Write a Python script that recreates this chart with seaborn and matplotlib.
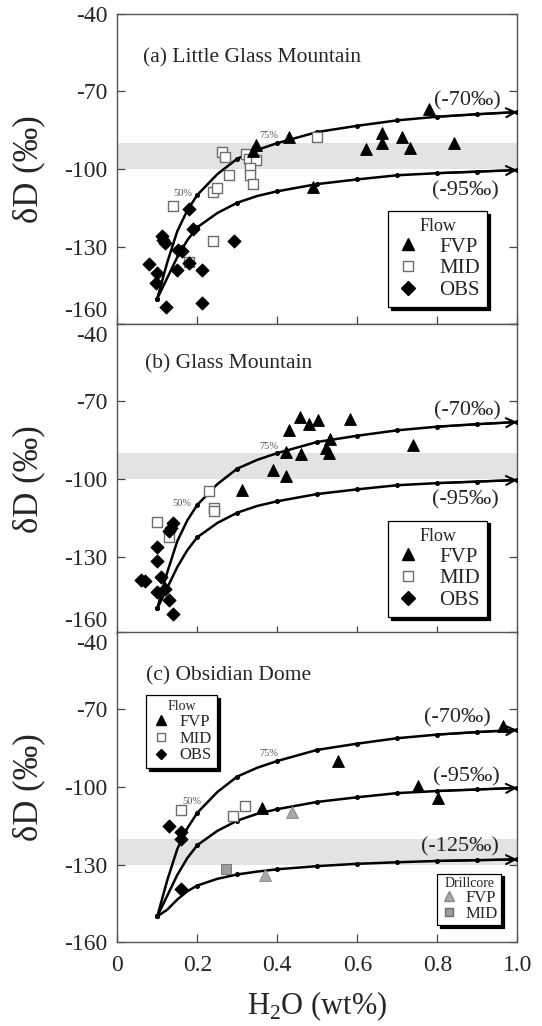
import numpy as np
import pandas as pd
import matplotlib
matplotlib.use("Agg")
import matplotlib.pyplot as plt
import matplotlib.transforms as mtransforms
import seaborn as sns
from matplotlib.lines import Line2D

# ---- model curves (same in every panel) ----
curve_x = [0.1, 0.125, 0.15, 0.175, 0.2, 0.25, 0.3, 0.35, 0.4, 0.5, 0.6, 0.7, 0.8, 0.9, 1.0]
curve_70 = [-150, -136, -124, -116, -110, -102, -96, -92.6, -90, -85.7, -83.3, -81.2, -79.8, -78.8, -78]
curve_95 = [-150, -142, -134, -127.5, -122.5, -117, -113, -110.4, -108.6, -105.8, -104, -102.4, -101.6, -101, -100.4]
curve_125 = [-150, -147.4, -143.5, -140.3, -138.1, -135.5, -133.8, -132.7, -131.8, -130.6, -129.7, -129.1, -128.6, -128.3, -128]
dot_x = [0.1, 0.2, 0.3, 0.4, 0.5, 0.6, 0.7, 0.8, 0.9, 1.0]

xticks = [0, 0.2, 0.4, 0.6, 0.8, 1.0]
xtick_labels = ['0', '0.2', '0.4', '0.6', '0.8', '1.0']
yticks = [-160, -130, -100, -70, -40]
ytick_labels = ['-160', '-130', '-100', '-70', '-40']

# ---- (a) Little Glass Mountain ----
a_fvp_x = [0.78, 0.43, 0.348, 0.34, 0.49, 0.621, 0.661, 0.661, 0.711, 0.732, 0.842]
a_fvp_y = [-77.0, -87.5, -90.7, -92.9, -106.8, -92.4, -86.2, -89.8, -87.8, -91.8, -89.8]
a_mid_x = [0.261, 0.269, 0.323, 0.33, 0.348, 0.28, 0.332, 0.332, 0.34, 0.24, 0.25, 0.14, 0.24, 0.18, 0.5]
a_mid_y = [-93.3, -95.3, -94.2, -96.3, -96.5, -102.3, -99.7, -102.3, -105.8, -108.8, -107.5, -114.2, -127.7, -135.8, -87.8]
a_obs_x = [0.18, 0.19, 0.111, 0.115, 0.119, 0.153, 0.161, 0.292, 0.08, 0.1, 0.098, 0.15, 0.18, 0.211, 0.122, 0.211]
a_obs_y = [-115.6, -123.0, -125.9, -127.4, -128.7, -131.3, -131.5, -127.7, -136.7, -140.0, -143.9, -139.0, -136.2, -139.0, -153.2, -151.9]

# ---- (b) Glass Mountain ----
b_fvp_x = [0.458, 0.48, 0.501, 0.43, 0.582, 0.532, 0.522, 0.53, 0.422, 0.459, 0.74, 0.39, 0.421, 0.311]
b_fvp_y = [-76.2, -78.8, -77.2, -81.1, -77.0, -84.7, -88.1, -90.1, -89.5, -90.3, -86.9, -96.5, -98.7, -104.2]
b_mid_x = [0.1, 0.13, 0.23, 0.242, 0.242]
b_mid_y = [-116.5, -122.3, -104.5, -111.3, -112.5]
b_obs_x = [0.06, 0.069, 0.099, 0.099, 0.109, 0.099, 0.119, 0.129, 0.14, 0.129, 0.135, 0.14]
b_obs_y = [-139.0, -139.4, -126.1, -131.8, -138.0, -143.5, -142.6, -146.9, -152.3, -119.9, -118.8, -116.9]

# ---- (c) Obsidian Dome ----
c_fvp_x = [0.361, 0.551, 0.752, 0.802, 0.964]
c_fvp_y = [-108.2, -90.0, -99.8, -104.3, -76.3]
c_mid_x = [0.159, 0.29, 0.32]
c_mid_y = [-109.1, -111.3, -107.4]
c_obs_x = [0.13, 0.159, 0.159, 0.16]
c_obs_y = [-115.0, -117.3, -120.1, -139.4]
c_core_fvp_x = [0.438, 0.369]
c_core_fvp_y = [-109.7, -134.2]
c_core_mid_x = [0.272]
c_core_mid_y = [-131.6]

sns.set_style("white")
plt.rcParams['font.family'] = ['Liberation Serif', 'DejaVu Serif']
plt.rcParams['mathtext.fontset'] = 'custom'
plt.rcParams['mathtext.rm'] = 'Liberation Serif'

fig = plt.figure(figsize=(5.42, 10.26), dpi=100)
left, width, height = 0.2164, 0.738, 0.3029
axes = [fig.add_axes([left, 0.6838, width, height]),
        fig.add_axes([left, 0.3817, width, height]),
        fig.add_axes([left, 0.0816, width, height])]

shadow = {'facecolor': 'k', 'edgecolor': 'k', 'alpha': 1}


def draw_curve(ax, ys, label, lx, ly):
    sns.lineplot(x=curve_x, y=ys, color='k', lw=1.8, ax=ax, estimator=None, sort=False)
    mask = np.isin(np.round(curve_x, 3), np.round(dot_x, 3))
    ax.plot(np.array(curve_x)[mask], np.array(ys)[mask], 'o', color='k', ms=2.6, zorder=3)
    ax.annotate('', xy=(curve_x[-1], ys[-1]), xytext=(curve_x[-3], ys[-3]),
                arrowprops=dict(arrowstyle='->', color='k', lw=1.5, mutation_scale=16,
                                shrinkA=0, shrinkB=0), annotation_clip=False)
    ax.text(lx, ly, label, fontsize=16, ha='center', va='center')


def draw_points(ax, fx, fy, mx, my, ox, oy):
    sns.scatterplot(x=mx, y=my, marker='s', s=58, color='white', edgecolor='#6d6d6d',
                    linewidth=1.0, ax=ax, zorder=4)
    sns.scatterplot(x=ox, y=oy, marker='D', s=46, color='k', edgecolor='k', ax=ax, zorder=5)
    sns.scatterplot(x=fx, y=fy, marker='^', s=72, color='k', edgecolor='k', ax=ax, zorder=5)


def flow_handles(ms):
    return [Line2D([], [], marker='^', color='k', ls='none', ms=ms),
            Line2D([], [], marker='s', mfc='white', mec='#6d6d6d', ls='none', ms=ms * 0.85),
            Line2D([], [], marker='D', color='k', ls='none', ms=ms * 0.8)]


def style_axes(ax, show_x, shift_top, shift_bottom):
    ax.set_xlim(0, 1.0)
    ax.set_ylim(-160, -40)
    ax.set_xticks(xticks, labels=xtick_labels if show_x else [''] * len(xticks))
    ax.set_yticks(yticks, labels=ytick_labels)
    ax.tick_params(direction='in', length=6, width=0.9, color='#444', labelsize=17,
                   left=True, right=True, bottom=True, top=False, pad=7)
    ax.tick_params(axis='x', pad=9)
    for sp in ax.spines.values():
        sp.set_color('#555')
        sp.set_linewidth(1.0)
    up = mtransforms.ScaledTranslation(0, 2 / 72, fig.dpi_scale_trans)
    down = mtransforms.ScaledTranslation(0, -2 / 72, fig.dpi_scale_trans)
    for lbl in ax.get_yticklabels():
        if shift_bottom and lbl.get_text() == '-160':
            lbl.set_va('bottom')
            lbl.set_transform(lbl.get_transform() + up)
        if shift_top and lbl.get_text() == '-40':
            lbl.set_va('top')
            lbl.set_transform(lbl.get_transform() + down)
    ax.set_ylabel('δD (‰)', fontsize=25)
    ax.yaxis.set_label_coords(-0.18, 0.5)
    ax.set_xlabel('')


# panel (a)
ax = axes[0]
ax.axhspan(-100, -90, color='#e3e3e3', lw=0, zorder=0)
draw_curve(ax, curve_70, '(-70‰)', 0.875, -73.7)
draw_curve(ax, curve_95, '(-95‰)', 0.87, -108.4)
draw_points(ax, a_fvp_x, a_fvp_y, a_mid_x, a_mid_y, a_obs_x, a_obs_y)
ax.text(0.165, -109.3, '50%', fontsize=7.5, color='#555', ha='center', va='center')
ax.text(0.378, -87.0, '75%', fontsize=7.5, color='#555', ha='center', va='center')
ax.text(0.065, 0.858, '(a) Little Glass Mountain', fontsize=15.5, transform=ax.transAxes,
        ha='left', va='center')
style_axes(ax, False, False, True)
leg = ax.legend(flow_handles(9), ['FVP', 'MID', 'OBS'], title='Flow', loc='lower right',
                bbox_to_anchor=(0.925, 0.055), borderaxespad=0, fontsize=15, title_fontsize=13,
                labelspacing=0.1, handletextpad=0.9, handlelength=1.2, fancybox=False,
                shadow=shadow, framealpha=1, edgecolor='k', borderpad=0.35)
leg.get_frame().set_linewidth(0.9)

# panel (b)
ax = axes[1]
ax.axhspan(-100, -90, color='#e3e3e3', lw=0, zorder=0)
draw_curve(ax, curve_70, '(-70‰)', 0.875, -73.7)
draw_curve(ax, curve_95, '(-95‰)', 0.87, -108.1)
draw_points(ax, b_fvp_x, b_fvp_y, b_mid_x, b_mid_y, b_obs_x, b_obs_y)
ax.text(0.162, -109.5, '50%', fontsize=7.5, color='#555', ha='center', va='center')
ax.text(0.38, -87.5, '75%', fontsize=7.5, color='#555', ha='center', va='center')
ax.text(0.069, 0.87, '(b) Glass Mountain', fontsize=15.5, transform=ax.transAxes,
        ha='left', va='center')
style_axes(ax, False, True, True)
leg = ax.legend(flow_handles(9), ['FVP', 'MID', 'OBS'], title='Flow', loc='lower right',
                bbox_to_anchor=(0.925, 0.055), borderaxespad=0, fontsize=15, title_fontsize=13,
                labelspacing=0.1, handletextpad=0.9, handlelength=1.2, fancybox=False,
                shadow=shadow, framealpha=1, edgecolor='k', borderpad=0.35)
leg.get_frame().set_linewidth(0.9)

# panel (c)
ax = axes[2]
ax.axhspan(-130, -120, color='#e3e3e3', lw=0, zorder=0)
draw_curve(ax, curve_70, '(-70‰)', 0.851, -73.5)
draw_curve(ax, curve_95, '(-95‰)', 0.873, -96.3)
draw_curve(ax, curve_125, '(-125‰)', 0.857, -123.1)
draw_points(ax, c_fvp_x, c_fvp_y, c_mid_x, c_mid_y, c_obs_x, c_obs_y)
sns.scatterplot(x=c_core_fvp_x, y=c_core_fvp_y, marker='^', s=72, color='#a9a9a9',
                edgecolor='#8a8a8a', ax=ax, zorder=5)
sns.scatterplot(x=c_core_mid_x, y=c_core_mid_y, marker='s', s=58, color='#9c9c9c',
                edgecolor='#6d6d6d', ax=ax, zorder=5)
ax.text(0.187, -105.8, '50%', fontsize=7.5, color='#555', ha='center', va='center')
ax.text(0.38, -87.2, '75%', fontsize=7.5, color='#555', ha='center', va='center')
ax.text(0.073, 0.857, '(c) Obsidian Dome', fontsize=15.5, transform=ax.transAxes,
        ha='left', va='center')
style_axes(ax, True, True, False)
ax.set_xlabel('H$_2$O (wt%)', fontsize=22, labelpad=10)
leg1 = ax.legend(flow_handles(6.5), ['FVP', 'MID', 'OBS'], title='Flow', loc='upper left',
                 bbox_to_anchor=(0.073, 0.796), borderaxespad=0, fontsize=12, title_fontsize=10,
                 labelspacing=0.05, handletextpad=0.6, handlelength=1.1, fancybox=False,
                 shadow=shadow, framealpha=1, edgecolor='k', borderpad=0.3)
leg1.get_frame().set_linewidth(0.9)
ax.add_artist(leg1)
core_handles = [Line2D([], [], marker='^', mfc='#a9a9a9', mec='#8a8a8a', ls='none', ms=6.5),
                Line2D([], [], marker='s', mfc='#9c9c9c', mec='#6d6d6d', ls='none', ms=5.5)]
leg2 = ax.legend(core_handles, ['FVP', 'MID'], title='Drillcore', loc='lower right',
                 bbox_to_anchor=(0.96, 0.055), borderaxespad=0, fontsize=12, title_fontsize=10,
                 labelspacing=0.0, handletextpad=0.5, handlelength=1.0, fancybox=False,
                 shadow=shadow, framealpha=1, edgecolor='k', borderpad=0.2)
leg2.get_frame().set_linewidth(0.9)

fig.savefig('out.png', dpi=100)
